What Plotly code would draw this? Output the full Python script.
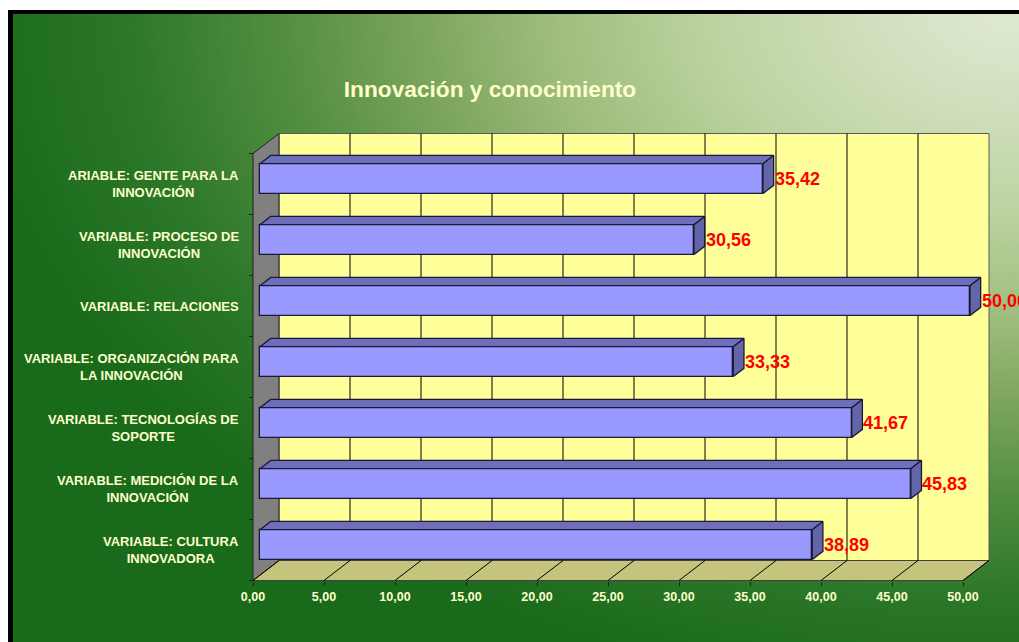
import base64
import plotly.graph_objects as go

# ---- data -------------------------------------------------------------
categories = [
    "VARIABLE: CULTURA<br>INNOVADORA",
    "VARIABLE: MEDICIÓN DE LA<br>INNOVACIÓN",
    "VARIABLE: TECNOLOGÍAS DE<br>SOPORTE",
    "VARIABLE: ORGANIZACIÓN PARA<br>LA INNOVACIÓN",
    "VARIABLE: RELACIONES",
    "VARIABLE: PROCESO DE<br>INNOVACIÓN",
    "ARIABLE: GENTE PARA LA<br>INNOVACIÓN",
]
values = [38.89, 45.83, 41.67, 33.33, 50.00, 30.56, 35.42]
value_labels = ["38,89", "45,83", "41,67", "33,33", "50,00", "30,56", "35,42"]
tick_values = [0, 5, 10, 15, 20, 25, 30, 35, 40, 45, 50]
tick_labels = ["0,00", "5,00", "10,00", "15,00", "20,00", "25,00",
               "30,00", "35,00", "40,00", "45,00", "50,00"]
title_text = "Innovación y conocimiento"

# ---- canvas / pseudo-3D geometry --------------------------------------
W, H = 1019, 642
PX_PER_UNIT = 14.2          # horizontal pixels per value unit
PX_PER_CAT = 61.0           # vertical pixels per category band
X0_PX = 253.0               # pixel column of value 0 on the front plane
FLOOR_PX = 580.5            # pixel row of the front floor edge
DX = 26.0 / PX_PER_UNIT     # depth offset (value units)
DY = 20.0 / PX_PER_CAT      # depth offset (category units)
F1, F2 = 0.27, 0.68         # bar front / back position in the depth
BAR_W = 0.49                # bar thickness in category units
XMAX = 50.0
NCAT = len(categories)

x_range = [-X0_PX / PX_PER_UNIT, (W - X0_PX) / PX_PER_UNIT]
y_range = [-(H - FLOOR_PX) / PX_PER_CAT, FLOOR_PX / PX_PER_CAT]

WALL = "#FFFF99"
FLOOR = "#C4C47C"
SIDE = "#808080"
BAR_FRONT = "#9999FF"
BAR_TOP = "#6E6EBA"
BAR_SIDE = "#6464A8"
EDGE = "#1A1A36"
CREAM = "#FFFFCC"
FONT = "Liberation Sans, Arial, sans-serif"

# background: radial green gradient lighting up the top-right corner
svg = f"""<svg xmlns='http://www.w3.org/2000/svg' width='{W}' height='{H}'>
<defs><radialGradient id='g' gradientUnits='userSpaceOnUse' cx='{W}' cy='8' r='1050'
 gradientTransform='translate({W} 8) scale(1 0.66) translate(-{W} -8)'>
<stop offset='0' stop-color='#E0EAD4'/>
<stop offset='0.15' stop-color='#D0DFBC'/>
<stop offset='0.30' stop-color='#BCD29E'/>
<stop offset='0.45' stop-color='#9DBC7C'/>
<stop offset='0.56' stop-color='#7EA75E'/>
<stop offset='0.70' stop-color='#538E40'/>
<stop offset='0.85' stop-color='#2C7729'/>
<stop offset='1' stop-color='#1A6A1C'/>
</radialGradient></defs>
<rect width='{W}' height='{H}' fill='url(#g)'/></svg>"""
bg_uri = "data:image/svg+xml;base64," + base64.b64encode(svg.encode()).decode()

shapes = []


def poly(points, fill, line_color, line_width=1):
    path = "M " + " L ".join(f"{x},{y}" for x, y in points) + " Z"
    return dict(type="path", path=path, xref="x", yref="y", layer="below",
                fillcolor=fill, line=dict(color=line_color, width=line_width))


def seg(x0, y0, x1, y1, color="#000000", width=1):
    return dict(type="line", x0=x0, y0=y0, x1=x1, y1=y1, xref="x", yref="y",
                layer="below", line=dict(color=color, width=width))


# back wall, left side wall and floor
shapes.append(poly([(DX, DY), (XMAX + DX, DY), (XMAX + DX, NCAT + DY), (DX, NCAT + DY)],
                   WALL, "#5A5A5A"))
shapes.append(poly([(0, 0), (DX, DY), (DX, NCAT + DY), (0, NCAT)], SIDE, "#202020"))
shapes.append(poly([(0, 0), (XMAX, 0), (XMAX + DX, DY), (DX, DY)], FLOOR, "#404040"))

# gridlines on the back wall and floor
for t in tick_values:
    if 0 < t < XMAX:
        shapes.append(seg(t + DX, DY, t + DX, NCAT + DY))
    shapes.append(seg(t, 0, t + DX, DY))

# bars: front faces as a bar trace
bar_y = [i + 0.5 + F1 * DY for i in range(NCAT)]
fig = go.Figure()
fig.add_trace(go.Bar(
    orientation="h", y=bar_y, x=values, base=F1 * DX, width=BAR_W,
    marker=dict(color=BAR_FRONT, line=dict(color=EDGE, width=1.3)),
    hoverinfo="skip", showlegend=False,
))

# top and right faces of each bar
top_x, top_y, side_x, side_y = [], [], [], []
for i, v in enumerate(values):
    yb = i + 0.5 - BAR_W / 2
    yt = i + 0.5 + BAR_W / 2
    pts_top = [(F1 * DX, yt + F1 * DY), (v + F1 * DX, yt + F1 * DY),
               (v + F2 * DX, yt + F2 * DY), (F2 * DX, yt + F2 * DY), (F1 * DX, yt + F1 * DY)]
    pts_side = [(v + F1 * DX, yt + F1 * DY), (v + F2 * DX, yt + F2 * DY),
                (v + F2 * DX, yb + F2 * DY), (v + F1 * DX, yb + F1 * DY), (v + F1 * DX, yt + F1 * DY)]
    for x, y in pts_top:
        top_x.append(x); top_y.append(y)
    top_x.append(None); top_y.append(None)
    for x, y in pts_side:
        side_x.append(x); side_y.append(y)
    side_x.append(None); side_y.append(None)

fig.add_trace(go.Scatter(x=top_x, y=top_y, mode="lines", fill="toself",
                         fillcolor=BAR_TOP, line=dict(color=EDGE, width=1.3),
                         hoverinfo="skip", showlegend=False))
fig.add_trace(go.Scatter(x=side_x, y=side_y, mode="lines", fill="toself",
                         fillcolor=BAR_SIDE, line=dict(color=EDGE, width=1.3),
                         hoverinfo="skip", showlegend=False))

annotations = []
# value labels
for i, (v, lab) in enumerate(zip(values, value_labels)):
    annotations.append(dict(
        x=v + F2 * DX, y=i + 0.5 + F1 * DY, xref="x", yref="y", text=f"<b>{lab}</b>",
        showarrow=False, xanchor="left", yanchor="middle", xshift=-1,
        font=dict(family=FONT, size=18, color="#FF0000"),
    ))
# category labels
for i, cat in enumerate(categories):
    annotations.append(dict(
        x=-0.85, y=i + 0.5, xref="x", yref="y", text=f"<b>{cat}</b>",
        showarrow=False, xanchor="right", yanchor="middle", align="center",
        font=dict(family=FONT, size=13, color=CREAM),
    ))

# frame: white margin strip and black border on top / left
shapes += [
    dict(type="rect", xref="paper", yref="paper", x0=0, x1=1, y0=1 - 10 / H, y1=1,
         fillcolor="white", line_width=0, layer="above"),
    dict(type="rect", xref="paper", yref="paper", x0=0, x1=8 / W, y0=0, y1=1,
         fillcolor="white", line_width=0, layer="above"),
    dict(type="rect", xref="paper", yref="paper", x0=8 / W, x1=1, y0=1 - 14 / H, y1=1 - 10 / H,
         fillcolor="black", line_width=0, layer="above"),
    dict(type="rect", xref="paper", yref="paper", x0=8 / W, x1=13 / W, y0=0, y1=1 - 10 / H,
         fillcolor="black", line_width=0, layer="above"),
]

fig.update_layout(
    width=W, height=H, margin=dict(l=0, r=0, t=0, b=0, pad=0),
    paper_bgcolor="#1A6A1C", plot_bgcolor="rgba(0,0,0,0)",
    showlegend=False, bargap=0,
    title=dict(text=f"<b>{title_text}</b>", x=490 / W, xanchor="center",
               y=1 - 89 / H, yanchor="middle",
               font=dict(family=FONT, size=22.7, color=CREAM)),
    xaxis=dict(range=x_range, anchor="free", position=(H - FLOOR_PX) / H,
               tickvals=tick_values, ticktext=[f"<b>{t}</b>" for t in tick_labels],
               ticks="outside", ticklen=4, tickcolor="#202020",
               showline=False, showgrid=False, zeroline=False,
               tickfont=dict(family=FONT, size=12.5, color=CREAM), fixedrange=True),
    yaxis=dict(range=y_range, anchor="free", position=X0_PX / W,
               tickvals=list(range(NCAT + 1)), ticks="outside", ticklen=4,
               tickcolor="#202020", showticklabels=False,
               showline=False, showgrid=False, zeroline=False, fixedrange=True),
    images=[dict(source=bg_uri, xref="paper", yref="paper", x=0, y=1,
                 sizex=1, sizey=1, sizing="stretch", layer="below",
                 xanchor="left", yanchor="top")],
    shapes=shapes,
    annotations=annotations,
)

fig.write_html("out.html")
